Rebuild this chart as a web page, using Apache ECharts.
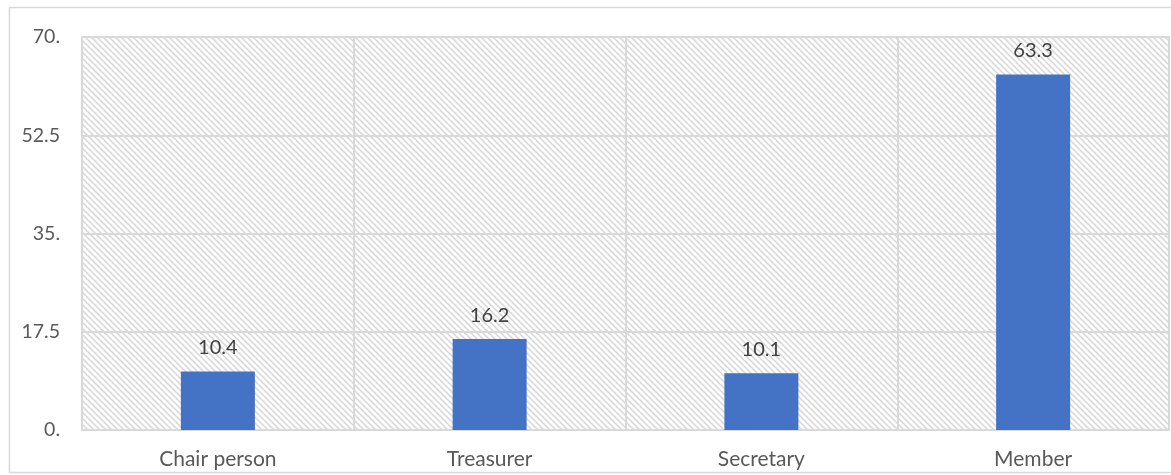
<!DOCTYPE html>
<html>
<head>
<meta charset="utf-8">
<script src="https://cdn.jsdelivr.net/npm/echarts@6/dist/echarts.min.js"></script>
<style>
html,body{margin:0;padding:0;background:#fff;}
#chart{width:1171px;height:475px;}
</style>
</head>
<body>
<div id="chart"></div>
<script>
const categories = ['Chair person', 'Treasurer', 'Secretary', 'Member'];
const values = [10.4, 16.2, 10.1, 63.3];
const yTickLabels = ['0.', '17.5', '35.', '52.5', '70.'];

function makeHatch() {
  const c = document.createElement('canvas');
  const s = 6;
  c.width = s; c.height = s;
  const ctx = c.getContext('2d');
  ctx.fillStyle = '#ffffff';
  ctx.fillRect(0, 0, s, s);
  ctx.strokeStyle = '#d6d6d6';
  ctx.lineWidth = 1.5;
  ctx.beginPath();
  ctx.moveTo(-1, -1); ctx.lineTo(s + 1, s + 1);
  ctx.moveTo(-1, s - 1); ctx.lineTo(1, s + 1);
  ctx.moveTo(s - 1, -1); ctx.lineTo(s + 1, 1);
  ctx.stroke();
  return c;
}

const chart = echarts.init(document.getElementById('chart'), null, {renderer: 'canvas'});
const font = 'Lato, "Open Sans", sans-serif';
chart.setOption({
  animation: false,
  textStyle: {fontFamily: font},
  graphic: [{
    type: 'rect',
    shape: {x: 9.5, y: 7.5, width: 1170, height: 465},
    style: {fill: 'none', stroke: '#d9d9d9', lineWidth: 1.5},
    z: -10
  }],
  grid: {
    left: 82, right: 2, top: 37, bottom: 45,
    show: true,
    backgroundColor: {image: makeHatch(), repeat: 'repeat'},
    borderColor: '#d9d9d9',
    borderWidth: 2
  },
  xAxis: {
    type: 'category',
    data: categories,
    axisTick: {show: false},
    axisLine: {show: true, lineStyle: {color: '#d9d9d9', width: 2}},
    splitLine: {show: true, interval: 0, lineStyle: {color: '#d9d9d9', width: 2}},
    axisLabel: {color: '#595959', fontSize: 21, margin: 19, fontFamily: font}
  },
  yAxis: {
    type: 'value',
    min: 0, max: 70, interval: 17.5,
    axisLine: {show: false},
    axisTick: {show: false},
    splitLine: {show: true, lineStyle: {color: '#d9d9d9', width: 2}},
    axisLabel: {
      color: '#595959', fontSize: 19.5, margin: 22, fontFamily: font,
      formatter: function (v) { return yTickLabels[Math.round(v / 17.5)]; }
    }
  },
  series: [{
    type: 'bar',
    data: values,
    barWidth: 74,
    itemStyle: {color: '#4472c4'},
    label: {
      show: true, position: 'top', distance: 14,
      color: '#404040', fontSize: 20, fontFamily: font,
      formatter: function (p) { return p.value.toFixed(1); }
    }
  }]
});
</script>
</body>
</html>
